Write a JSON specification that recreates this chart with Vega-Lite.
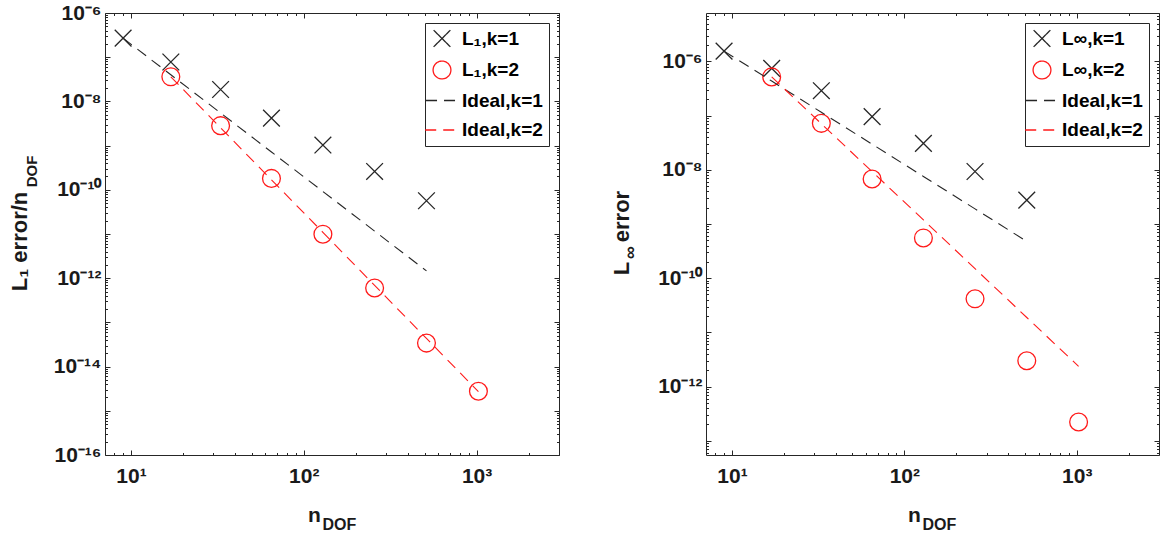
{
  "$schema": "https://vega.github.io/schema/vega-lite/v6.json",
  "background": "white",
  "padding": {"left": 7, "top": 1, "right": 0, "bottom": 0},
  "datasets": {
    "left": [
      {"series": "L₁,k=1", "n": 9, "err": 2.7e-7},
      {"series": "L₁,k=1", "n": 17, "err": 7.8e-8},
      {"series": "L₁,k=1", "n": 33, "err": 1.86e-8},
      {"series": "L₁,k=1", "n": 65, "err": 4.2e-9},
      {"series": "L₁,k=1", "n": 129, "err": 1.03e-9},
      {"series": "L₁,k=1", "n": 257, "err": 2.6e-10},
      {"series": "L₁,k=1", "n": 513, "err": 5.65e-11},
      {"series": "L₁,k=2", "n": 17, "err": 3.6e-8},
      {"series": "L₁,k=2", "n": 33, "err": 2.83e-9},
      {"series": "L₁,k=2", "n": 65, "err": 1.81e-10},
      {"series": "L₁,k=2", "n": 129, "err": 9.9e-12},
      {"series": "L₁,k=2", "n": 257, "err": 6.0e-13},
      {"series": "L₁,k=2", "n": 513, "err": 3.4e-14},
      {"series": "L₁,k=2", "n": 1025, "err": 2.77e-15},
      {"series": "Ideal,k=1", "n": 9, "err": 2.7e-7},
      {"series": "Ideal,k=1", "n": 17, "err": 4.0e-8},
      {"series": "Ideal,k=1", "n": 33, "err": 5.47e-9},
      {"series": "Ideal,k=1", "n": 65, "err": 7.16e-10},
      {"series": "Ideal,k=1", "n": 129, "err": 9.16e-11},
      {"series": "Ideal,k=1", "n": 257, "err": 1.16e-11},
      {"series": "Ideal,k=1", "n": 513, "err": 1.46e-12},
      {"series": "Ideal,k=2", "n": 17, "err": 3.6e-8},
      {"series": "Ideal,k=2", "n": 33, "err": 2.53e-9},
      {"series": "Ideal,k=2", "n": 65, "err": 1.68e-10},
      {"series": "Ideal,k=2", "n": 129, "err": 1.09e-11},
      {"series": "Ideal,k=2", "n": 257, "err": 6.89e-13},
      {"series": "Ideal,k=2", "n": 513, "err": 4.34e-14},
      {"series": "Ideal,k=2", "n": 1025, "err": 2.72e-15}
    ],
    "right": [
      {"series": "L∞,k=1", "n": 9, "err": 1.55e-6},
      {"series": "L∞,k=1", "n": 17, "err": 7.46e-7},
      {"series": "L∞,k=1", "n": 33, "err": 2.88e-7},
      {"series": "L∞,k=1", "n": 65, "err": 9.6e-8},
      {"series": "L∞,k=1", "n": 129, "err": 3.08e-8},
      {"series": "L∞,k=1", "n": 257, "err": 9.3e-9},
      {"series": "L∞,k=1", "n": 513, "err": 2.76e-9},
      {"series": "L∞,k=2", "n": 17, "err": 5.18e-7},
      {"series": "L∞,k=2", "n": 33, "err": 7.2e-8},
      {"series": "L∞,k=2", "n": 65, "err": 6.75e-9},
      {"series": "L∞,k=2", "n": 129, "err": 5.53e-10},
      {"series": "L∞,k=2", "n": 257, "err": 4.16e-11},
      {"series": "L∞,k=2", "n": 513, "err": 2.99e-12},
      {"series": "L∞,k=2", "n": 1025, "err": 2.22e-13},
      {"series": "Ideal,k=1", "n": 9, "err": 1.55e-6},
      {"series": "Ideal,k=1", "n": 17, "err": 4.34e-7},
      {"series": "Ideal,k=1", "n": 33, "err": 1.15e-7},
      {"series": "Ideal,k=1", "n": 65, "err": 2.97e-8},
      {"series": "Ideal,k=1", "n": 129, "err": 7.54e-9},
      {"series": "Ideal,k=1", "n": 257, "err": 1.9e-9},
      {"series": "Ideal,k=1", "n": 513, "err": 4.77e-10},
      {"series": "Ideal,k=2", "n": 17, "err": 5.18e-7},
      {"series": "Ideal,k=2", "n": 33, "err": 7.07e-8},
      {"series": "Ideal,k=2", "n": 65, "err": 9.25e-9},
      {"series": "Ideal,k=2", "n": 129, "err": 1.19e-9},
      {"series": "Ideal,k=2", "n": 257, "err": 1.5e-10},
      {"series": "Ideal,k=2", "n": 513, "err": 1.88e-11},
      {"series": "Ideal,k=2", "n": 1025, "err": 2.36e-12}
    ]
  },
  "spacing": 147,
  "bounds": "flush",
  "resolve": {"scale": {"color": "independent", "shape": "independent", "strokeDash": "independent", "size": "independent", "x": "independent", "y": "independent"}},
  "hconcat": [
    {
      "width": 454,
      "height": 442,
      "data": {"name": "left"},
      "resolve": {"axis": {"x": "independent", "y": "independent"}},
      "layer": [
        {
          "transform": [{"filter": "datum.series == 'L₁,k=1'"}],
          "mark": {"type": "point", "filled": false, "strokeWidth": 1.3, "opacity": 1},
          "encoding": {
            "x": {"field": "n", "type": "quantitative", "scale": {"type": "log", "domain": [7.07, 3000], "nice": false},
              "axis": {"orient": "bottom", "values": [8,9,10,20,30,40,50,60,70,80,90,100,200,300,400,500,600,700,800,900,1000,2000,3000],
                "labelExpr": "datum.value == 10 ? '10¹' : datum.value == 100 ? '10²' : datum.value == 1000 ? '10³' : ''",
                "tickSize": {"condition": {"test": "datum.value == 10 || datum.value == 100 || datum.value == 1000", "value": -5}, "value": -2.5},
                "labelPadding": 15, "labelOverlap": false, "labelFlush": false,
                "title": "n", "titleFontSize": 21, "titleX": 209, "titleY": 66, "titleAlign": "center", "titleBaseline": "alphabetic"}},
            "y": {"field": "err", "type": "quantitative", "scale": {"type": "log", "domain": [1e-16, 1e-6], "nice": false},
              "axis": {"orient": "left",
                "values": [1e-16,2e-16,3e-16,4e-16,5e-16,6e-16,7e-16,8e-16,9e-16,1e-15,2e-15,3e-15,4e-15,5e-15,6e-15,7e-15,8e-15,9e-15,1e-14,2e-14,3e-14,4e-14,5e-14,6e-14,7e-14,8e-14,9e-14,1e-13,2e-13,3e-13,4e-13,5e-13,6e-13,7e-13,8e-13,9e-13,1e-12,2e-12,3e-12,4e-12,5e-12,6e-12,7e-12,8e-12,9e-12,1e-11,2e-11,3e-11,4e-11,5e-11,6e-11,7e-11,8e-11,9e-11,1e-10,2e-10,3e-10,4e-10,5e-10,6e-10,7e-10,8e-10,9e-10,1e-9,2e-9,3e-9,4e-9,5e-9,6e-9,7e-9,8e-9,9e-9,1e-8,2e-8,3e-8,4e-8,5e-8,6e-8,7e-8,8e-8,9e-8,1e-7,2e-7,3e-7,4e-7,5e-7,6e-7,7e-7,8e-7,9e-7,1e-6],
                "labelExpr": "abs(log(datum.value)/LN10 - round(log(datum.value)/LN10)) > 0.001 || round(log(datum.value)/LN10) % 2 != 0 ? '' : '10' + replace(replace(replace(replace(replace(replace(replace('' + round(log(datum.value)/LN10), '-', '⁻'), '1', '¹'), '0', '⁰'), '2', '²'), '4', '⁴'), '6', '⁶'), '8', '⁸')",
                "tickSize": {"condition": {"test": "abs(log(datum.value)/LN10 - round(log(datum.value)/LN10)) < 0.001", "value": -5}, "value": -2.5},
                "labelPadding": 9, "labelOverlap": false, "labelFlush": false,
                "title": "L₁ error/n", "titleFontSize": 22, "titleX": -79, "titleY": 228, "titleAlign": "center", "titleBaseline": "alphabetic", "titleAngle": -90}},
            "color": {"field": "series", "type": "nominal", "scale": {"domain": ["L₁,k=1", "L₁,k=2", "Ideal,k=1", "Ideal,k=2"], "range": ["#262626", "#ff1a1a", "#262626", "#ff1a1a"]}, "legend": {"title": null}},
            "shape": {"field": "series", "type": "nominal", "scale": {"domain": ["L₁,k=1", "L₁,k=2", "Ideal,k=1", "Ideal,k=2"], "range": ["M-1,-1L1,1M-1,1L1,-1", "circle", "M-1.7,0L1.7,0", "M-1.7,0L1.7,0"]}, "legend": {"title": null}},
            "size": {"field": "series", "type": "nominal", "scale": {"domain": ["L₁,k=1", "L₁,k=2", "Ideal,k=1", "Ideal,k=2"], "range": [280, 390, 1450, 1450]}, "legend": {"title": null}}
          }
        },
        {
          "transform": [{"filter": "datum.series == 'L₁,k=2'"}],
          "mark": {"type": "point", "filled": false, "strokeWidth": 1.3, "opacity": 1},
          "encoding": {
            "x": {"field": "n", "type": "quantitative",
              "axis": {"orient": "bottom", "ticks": false, "labels": false, "domain": false, "grid": false,
                "title": "DOF", "titleFontSize": 16, "titleX": 217, "titleY": 74, "titleAlign": "left", "titleBaseline": "alphabetic"}},
            "y": {"field": "err", "type": "quantitative",
              "axis": {"orient": "left", "ticks": false, "labels": false, "domain": false, "grid": false,
                "title": "DOF", "titleFontSize": 15, "titleX": -69, "titleY": 158, "titleAlign": "center", "titleBaseline": "alphabetic", "titleAngle": -90}},
            "color": {"field": "series", "type": "nominal", "legend": {"title": null}},
            "shape": {"field": "series", "type": "nominal", "legend": {"title": null}},
            "size": {"field": "series", "type": "nominal", "legend": {"title": null}}
          }
        },
        {
          "transform": [{"filter": "datum.series == 'Ideal,k=1'"}],
          "mark": {"type": "line", "strokeWidth": 1.1},
          "encoding": {
            "x": {"field": "n", "type": "quantitative",
              "axis": {"orient": "top", "values": [8,9,10,20,30,40,50,60,70,80,90,100,200,300,400,500,600,700,800,900,1000,2000,3000], "labels": false, "title": null,
                "tickSize": {"condition": {"test": "datum.value == 10 || datum.value == 100 || datum.value == 1000", "value": -5}, "value": -2.5}}},
            "y": {"field": "err", "type": "quantitative",
              "axis": {"orient": "right", "labels": false, "title": null,
                "values": [1e-16,2e-16,3e-16,4e-16,5e-16,6e-16,7e-16,8e-16,9e-16,1e-15,2e-15,3e-15,4e-15,5e-15,6e-15,7e-15,8e-15,9e-15,1e-14,2e-14,3e-14,4e-14,5e-14,6e-14,7e-14,8e-14,9e-14,1e-13,2e-13,3e-13,4e-13,5e-13,6e-13,7e-13,8e-13,9e-13,1e-12,2e-12,3e-12,4e-12,5e-12,6e-12,7e-12,8e-12,9e-12,1e-11,2e-11,3e-11,4e-11,5e-11,6e-11,7e-11,8e-11,9e-11,1e-10,2e-10,3e-10,4e-10,5e-10,6e-10,7e-10,8e-10,9e-10,1e-9,2e-9,3e-9,4e-9,5e-9,6e-9,7e-9,8e-9,9e-9,1e-8,2e-8,3e-8,4e-8,5e-8,6e-8,7e-8,8e-8,9e-8,1e-7,2e-7,3e-7,4e-7,5e-7,6e-7,7e-7,8e-7,9e-7,1e-6],
                "tickSize": {"condition": {"test": "abs(log(datum.value)/LN10 - round(log(datum.value)/LN10)) < 0.001", "value": -5}, "value": -2.5}}},
            "color": {"field": "series", "type": "nominal", "legend": {"title": null}},
            "strokeDash": {"field": "series", "type": "nominal", "scale": {"domain": ["L₁,k=1", "L₁,k=2", "Ideal,k=1", "Ideal,k=2"], "range": [[1,0],[1,0],[11,7],[11,7]]}, "legend": {"title": null}}
          }
        },
        {
          "transform": [{"filter": "datum.series == 'Ideal,k=2'"}],
          "mark": {"type": "line", "strokeWidth": 1.1},
          "encoding": {
            "x": {"field": "n", "type": "quantitative", "axis": null},
            "y": {"field": "err", "type": "quantitative", "axis": null},
            "color": {"field": "series", "type": "nominal", "legend": {"title": null}},
            "strokeDash": {"field": "series", "type": "nominal", "legend": {"title": null}}
          }
        }
      ]
    },
    {
      "width": 453,
      "height": 442,
      "data": {"name": "right"},
      "resolve": {"axis": {"x": "independent", "y": "independent"}},
      "layer": [
        {
          "transform": [{"filter": "datum.series == 'L∞,k=1'"}],
          "mark": {"type": "point", "filled": false, "strokeWidth": 1.3, "opacity": 1},
          "encoding": {
            "x": {"field": "n", "type": "quantitative", "scale": {"type": "log", "domain": [7.07, 3000], "nice": false},
              "axis": {"orient": "bottom", "values": [8,9,10,20,30,40,50,60,70,80,90,100,200,300,400,500,600,700,800,900,1000,2000,3000],
                "labelExpr": "datum.value == 10 ? '10¹' : datum.value == 100 ? '10²' : datum.value == 1000 ? '10³' : ''",
                "tickSize": {"condition": {"test": "datum.value == 10 || datum.value == 100 || datum.value == 1000", "value": -5}, "value": -2.5},
                "labelPadding": 15, "labelOverlap": false, "labelFlush": false,
                "title": "n", "titleFontSize": 21, "titleX": 208, "titleY": 66, "titleAlign": "center", "titleBaseline": "alphabetic"}},
            "y": {"field": "err", "type": "quantitative", "scale": {"type": "log", "domain": [5.46e-14, 7.82e-6], "nice": false},
              "axis": {"orient": "left",
                "values": [6e-14,7e-14,8e-14,9e-14,1e-13,2e-13,3e-13,4e-13,5e-13,6e-13,7e-13,8e-13,9e-13,1e-12,2e-12,3e-12,4e-12,5e-12,6e-12,7e-12,8e-12,9e-12,1e-11,2e-11,3e-11,4e-11,5e-11,6e-11,7e-11,8e-11,9e-11,1e-10,2e-10,3e-10,4e-10,5e-10,6e-10,7e-10,8e-10,9e-10,1e-9,2e-9,3e-9,4e-9,5e-9,6e-9,7e-9,8e-9,9e-9,1e-8,2e-8,3e-8,4e-8,5e-8,6e-8,7e-8,8e-8,9e-8,1e-7,2e-7,3e-7,4e-7,5e-7,6e-7,7e-7,8e-7,9e-7,1e-6,2e-6,3e-6,4e-6,5e-6,6e-6,7e-6],
                "labelExpr": "abs(log(datum.value)/LN10 - round(log(datum.value)/LN10)) > 0.001 || round(log(datum.value)/LN10) % 2 != 0 ? '' : '10' + replace(replace(replace(replace(replace(replace(replace('' + round(log(datum.value)/LN10), '-', '⁻'), '1', '¹'), '0', '⁰'), '2', '²'), '4', '⁴'), '6', '⁶'), '8', '⁸')",
                "tickSize": {"condition": {"test": "abs(log(datum.value)/LN10 - round(log(datum.value)/LN10)) < 0.001", "value": -5}, "value": -2.5},
                "labelPadding": 9, "labelOverlap": false, "labelFlush": false,
                "title": "L", "titleFontSize": 22, "titleX": -78, "titleY": 255, "titleAlign": "center", "titleBaseline": "alphabetic", "titleAngle": -90}},
            "color": {"field": "series", "type": "nominal", "scale": {"domain": ["L∞,k=1", "L∞,k=2", "Ideal,k=1", "Ideal,k=2"], "range": ["#262626", "#ff1a1a", "#262626", "#ff1a1a"]}, "legend": {"title": null}},
            "shape": {"field": "series", "type": "nominal", "scale": {"domain": ["L∞,k=1", "L∞,k=2", "Ideal,k=1", "Ideal,k=2"], "range": ["M-1,-1L1,1M-1,1L1,-1", "circle", "M-1.7,0L1.7,0", "M-1.7,0L1.7,0"]}, "legend": {"title": null}},
            "size": {"field": "series", "type": "nominal", "scale": {"domain": ["L∞,k=1", "L∞,k=2", "Ideal,k=1", "Ideal,k=2"], "range": [280, 390, 1450, 1450]}, "legend": {"title": null}}
          }
        },
        {
          "transform": [{"filter": "datum.series == 'L∞,k=2'"}],
          "mark": {"type": "point", "filled": false, "strokeWidth": 1.3, "opacity": 1},
          "encoding": {
            "x": {"field": "n", "type": "quantitative",
              "axis": {"orient": "bottom", "ticks": false, "labels": false, "domain": false, "grid": false,
                "title": "DOF", "titleFontSize": 16, "titleX": 216, "titleY": 74, "titleAlign": "left", "titleBaseline": "alphabetic"}},
            "y": {"field": "err", "type": "quantitative",
              "axis": {"orient": "left", "ticks": false, "labels": false, "domain": false, "grid": false,
                "title": "∞", "titleFontSize": 18, "titleX": -71, "titleY": 239, "titleAlign": "center", "titleBaseline": "alphabetic", "titleAngle": -90}},
            "color": {"field": "series", "type": "nominal", "legend": {"title": null}},
            "shape": {"field": "series", "type": "nominal", "legend": {"title": null}},
            "size": {"field": "series", "type": "nominal", "legend": {"title": null}}
          }
        },
        {
          "transform": [{"filter": "datum.series == 'Ideal,k=1'"}],
          "mark": {"type": "line", "strokeWidth": 1.1},
          "encoding": {
            "x": {"field": "n", "type": "quantitative",
              "axis": {"orient": "top", "values": [8,9,10,20,30,40,50,60,70,80,90,100,200,300,400,500,600,700,800,900,1000,2000,3000], "labels": false, "title": null,
                "tickSize": {"condition": {"test": "datum.value == 10 || datum.value == 100 || datum.value == 1000", "value": -5}, "value": -2.5}}},
            "y": {"field": "err", "type": "quantitative",
              "axis": {"orient": "right", "labels": false, "title": null,
                "values": [6e-14,7e-14,8e-14,9e-14,1e-13,2e-13,3e-13,4e-13,5e-13,6e-13,7e-13,8e-13,9e-13,1e-12,2e-12,3e-12,4e-12,5e-12,6e-12,7e-12,8e-12,9e-12,1e-11,2e-11,3e-11,4e-11,5e-11,6e-11,7e-11,8e-11,9e-11,1e-10,2e-10,3e-10,4e-10,5e-10,6e-10,7e-10,8e-10,9e-10,1e-9,2e-9,3e-9,4e-9,5e-9,6e-9,7e-9,8e-9,9e-9,1e-8,2e-8,3e-8,4e-8,5e-8,6e-8,7e-8,8e-8,9e-8,1e-7,2e-7,3e-7,4e-7,5e-7,6e-7,7e-7,8e-7,9e-7,1e-6,2e-6,3e-6,4e-6,5e-6,6e-6,7e-6],
                "tickSize": {"condition": {"test": "abs(log(datum.value)/LN10 - round(log(datum.value)/LN10)) < 0.001", "value": -5}, "value": -2.5}}},
            "color": {"field": "series", "type": "nominal", "legend": {"title": null}},
            "strokeDash": {"field": "series", "type": "nominal", "scale": {"domain": ["L∞,k=1", "L∞,k=2", "Ideal,k=1", "Ideal,k=2"], "range": [[1,0],[1,0],[11,7],[11,7]]}, "legend": {"title": null}}
          }
        },
        {
          "transform": [{"filter": "datum.series == 'Ideal,k=2'"}],
          "mark": {"type": "line", "strokeWidth": 1.1},
          "encoding": {
            "x": {"field": "n", "type": "quantitative", "axis": null},
            "y": {"field": "err", "type": "quantitative",
              "axis": {"orient": "left", "ticks": false, "labels": false, "domain": false, "grid": false,
                "title": "error", "titleFontSize": 22, "titleX": -78, "titleY": 203, "titleAlign": "center", "titleBaseline": "alphabetic", "titleAngle": -90}},
            "color": {"field": "series", "type": "nominal", "legend": {"title": null}},
            "strokeDash": {"field": "series", "type": "nominal", "legend": {"title": null}}
          }
        }
      ]
    }
  ],
  "config": {
    "font": "Liberation Sans",
    "view": {"stroke": "#262626", "strokeWidth": 1},
    "axis": {
      "domain": false, "grid": false,
      "labelFont": "Liberation Sans", "labelFontWeight": "bold", "labelFontSize": 21, "labelColor": "#1a1a1a",
      "titleFont": "Liberation Sans", "titleFontWeight": "bold", "titleFontSize": 19, "titleColor": "#1a1a1a",
      "tickColor": "#262626", "tickWidth": 1
    },
    "legend": {
      "orient": "top-right", "offset": 10,
      "strokeColor": "#262626", "fillColor": "white", "padding": 6,
      "labelFont": "Liberation Sans", "labelFontWeight": "bold", "labelFontSize": 19, "labelColor": "#000000",
      "labelOffset": 9, "rowPadding": 8, "symbolStrokeWidth": 1.3
    }
  }
}
